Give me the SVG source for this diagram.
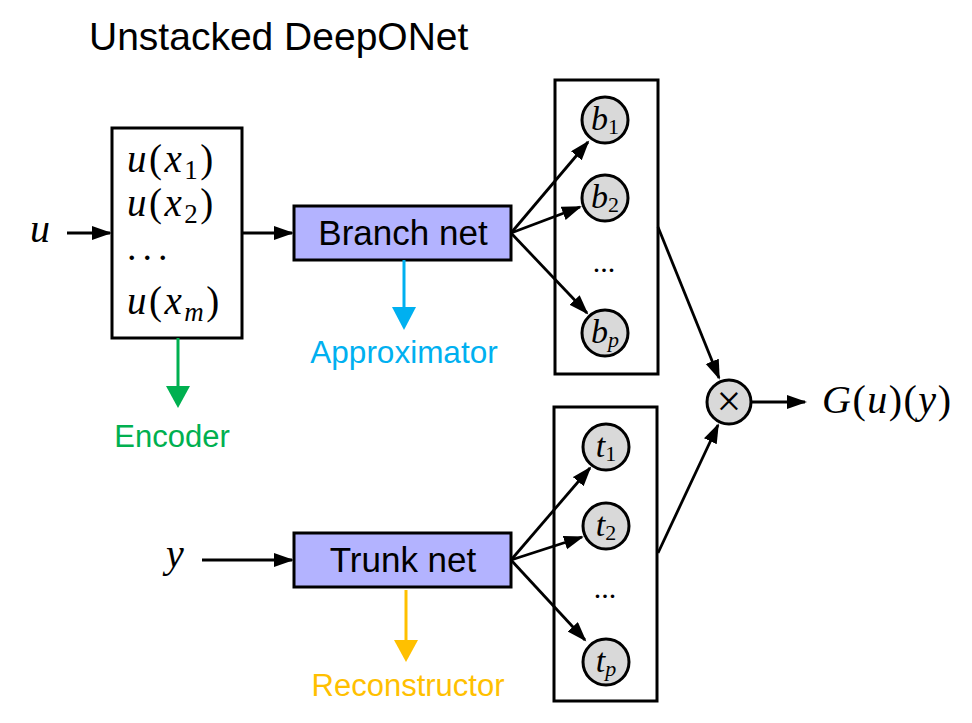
<svg xmlns="http://www.w3.org/2000/svg" width="972" height="723" viewBox="0 0 972 723">
<defs>
<style>
.sans{font-family:"Liberation Sans",Arial,sans-serif;}
.math{font-family:"Liberation Serif","Times New Roman",serif;fill:#000;}
.it{font-style:italic;}
.box{fill:#fff;stroke:#000;stroke-width:3;}
.net{fill:#B3B3FF;stroke:#000;stroke-width:3;}
.node{fill:#D9D9D9;stroke:#000;stroke-width:3;}
.conn{fill:none;stroke:#000;stroke-width:2.8;}
</style>
<marker id="ah" markerUnits="userSpaceOnUse" markerWidth="22" markerHeight="16" refX="18" refY="7" orient="auto">
<path d="M0,0 L20,7 L0,14 z" fill="#000"/>
</marker>
</defs>
<rect width="972" height="723" fill="#fff"/>

<text class="sans" x="89" y="50" font-size="39" fill="#000">Unstacked DeepONet</text>

<g id="input-u">
<text class="math it" x="30" y="242" font-size="40">u</text>
</g>
<g id="input-y">
<text class="math it" x="166" y="567" font-size="40">y</text>
</g>

<g id="encoder">
<rect class="box" x="112" y="128" width="130" height="210"/>
<text class="math" x="127" y="172" font-size="39" letter-spacing="2.5"><tspan class="it">u</tspan>(<tspan class="it">x</tspan><tspan font-size="27" dy="7">1</tspan><tspan dy="-7">)</tspan></text>
<text class="math" x="127" y="216" font-size="39" letter-spacing="2.5"><tspan class="it">u</tspan>(<tspan class="it">x</tspan><tspan font-size="27" dy="7">2</tspan><tspan dy="-7">)</tspan></text>
<text class="math" x="127" y="260" font-size="38" letter-spacing="6">...</text>
<text class="math" x="127" y="314" font-size="39" letter-spacing="2.5"><tspan class="it">u</tspan>(<tspan class="it">x</tspan><tspan class="it" font-size="27" dy="7">m</tspan><tspan dy="-7">)</tspan></text>
</g>

<g id="branch-net">
<rect class="net" x="294" y="206" width="217" height="54"/>
<text class="sans" x="403" y="245" font-size="35" text-anchor="middle" fill="#000">Branch net</text>
</g>

<g id="trunk-net">
<rect class="net" x="294" y="533" width="217" height="54"/>
<text class="sans" x="403" y="572" font-size="35" text-anchor="middle" fill="#000">Trunk net</text>
</g>

<g id="branch-outputs">
<rect class="box" x="555" y="80" width="103" height="294"/>
<circle class="node" cx="605" cy="120" r="23"/>
<text class="math" x="605" y="130" font-size="34" text-anchor="middle"><tspan class="it">b</tspan><tspan font-size="22" dy="4">1</tspan></text>
<circle class="node" cx="605" cy="198" r="23"/>
<text class="math" x="605" y="208" font-size="34" text-anchor="middle"><tspan class="it">b</tspan><tspan font-size="22" dy="4">2</tspan></text>
<text class="math" x="604" y="272" font-size="30" text-anchor="middle">...</text>
<circle class="node" cx="605" cy="333" r="23"/>
<text class="math" x="605" y="343" font-size="34" text-anchor="middle"><tspan class="it">b</tspan><tspan class="it" font-size="22" dy="4">p</tspan></text>
</g>

<g id="trunk-outputs">
<rect class="box" x="554" y="407" width="103" height="294"/>
<circle class="node" cx="606" cy="447" r="23"/>
<text class="math" x="606" y="457" font-size="34" text-anchor="middle"><tspan class="it">t</tspan><tspan font-size="22" dy="4">1</tspan></text>
<circle class="node" cx="606" cy="526" r="23"/>
<text class="math" x="606" y="536" font-size="34" text-anchor="middle"><tspan class="it">t</tspan><tspan font-size="22" dy="4">2</tspan></text>
<text class="math" x="605" y="598" font-size="30" text-anchor="middle">...</text>
<circle class="node" cx="606" cy="662" r="23"/>
<text class="math" x="606" y="672" font-size="34" text-anchor="middle"><tspan class="it">t</tspan><tspan class="it" font-size="22" dy="4">p</tspan></text>
</g>

<g id="product">
<circle class="node" cx="729" cy="402" r="22"/>
<text class="math" x="729" y="416" font-size="44" text-anchor="middle">×</text>
</g>

<g id="output">
<text class="math" x="822" y="413" font-size="40" letter-spacing="1.5"><tspan class="it">G</tspan>(<tspan class="it">u</tspan>)(<tspan class="it">y</tspan>)</text>
</g>

<g id="labels">
<text class="sans" x="172" y="447" font-size="31" text-anchor="middle" fill="#00B050">Encoder</text>
<text class="sans" x="404" y="363" font-size="31.5" text-anchor="middle" fill="#00B0F0">Approximator</text>
<text class="sans" x="408" y="696" font-size="31" text-anchor="middle" fill="#FFC000">Reconstructor</text>
</g>

<g id="connectors">
<line class="conn" x1="67" y1="233" x2="110" y2="233" marker-end="url(#ah)"/>
<line class="conn" x1="242" y1="233" x2="292" y2="233" marker-end="url(#ah)"/>
<line class="conn" x1="202" y1="560" x2="292" y2="560" marker-end="url(#ah)"/>
<line class="conn" x1="511" y1="233" x2="588" y2="142" marker-end="url(#ah)"/>
<line class="conn" x1="511" y1="233" x2="580" y2="207" marker-end="url(#ah)"/>
<line class="conn" x1="511" y1="233" x2="587" y2="313" marker-end="url(#ah)"/>
<line class="conn" x1="511" y1="560" x2="590" y2="468" marker-end="url(#ah)"/>
<line class="conn" x1="511" y1="560" x2="582" y2="537" marker-end="url(#ah)"/>
<line class="conn" x1="511" y1="560" x2="585" y2="640" marker-end="url(#ah)"/>
<line class="conn" x1="658" y1="227" x2="719" y2="378" marker-end="url(#ah)"/>
<line class="conn" x1="658" y1="553" x2="718" y2="425" marker-end="url(#ah)"/>
<line class="conn" x1="751" y1="402" x2="805" y2="402" marker-end="url(#ah)"/>
<line x1="178" y1="338" x2="178" y2="388" stroke="#00B050" stroke-width="3"/>
<polygon points="166,386 190,386 178,408" fill="#00B050"/>
<line x1="404" y1="260" x2="404" y2="309" stroke="#00B0F0" stroke-width="3"/>
<polygon points="392,307 416,307 404,330" fill="#00B0F0"/>
<line x1="406" y1="590" x2="406" y2="642" stroke="#FFC000" stroke-width="3"/>
<polygon points="394,640 418,640 406,662" fill="#FFC000"/>
</g>
</svg>
